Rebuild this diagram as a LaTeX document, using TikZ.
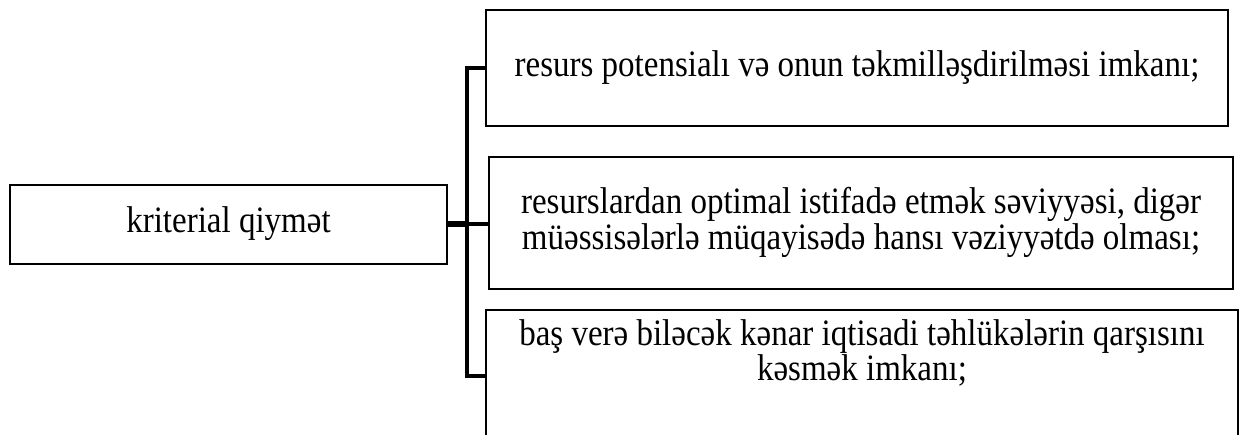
\documentclass[tikz,border=0pt]{standalone}
\usepackage{fontspec}
\setmainfont{Liberation Serif}
\newcommand{\vstretch}[1]{\scalebox{1}[1.13]{\begin{tabular}{@{}c@{}}#1\end{tabular}}}
\begin{document}
\begin{tikzpicture}[x=1pt,y=-1pt,
  boxstyle/.style={draw=black, line width=2.6pt, rectangle, inner sep=0pt, align=center,
    font=\fontsize{33}{28}\selectfont},
  txtstyle/.style={inner sep=0pt, align=center, font=\fontsize{33}{28}\selectfont},
  conn/.style={line width=4.2pt, line cap=rect},
  connthick/.style={line width=6.5pt}]
\clip (0,0) rectangle (1240,434);
\useasboundingbox (0,0) rectangle (1240,434);
\node[boxstyle, minimum width=437pt, minimum height=79pt] (left) at (228.5,224.5) {\vstretch{kriterial qiymət}};
\node[boxstyle, minimum width=742pt, minimum height=116pt] (b1) at (857,68) {\vstretch{resurs potensialı və onun təkmilləşdirilməsi imkanı;}};
\node[boxstyle, minimum width=744pt, minimum height=132pt] (b2) at (861,223) {\vstretch{resurslardan optimal istifadə etmək səviyyəsi, digər\\müəssisələrlə müqayisədə hansı vəziyyətdə olması;}};
\node[boxstyle, minimum width=752pt, minimum height=150pt] (b3) at (862,385) {};
\node[txtstyle] (b3t) at (862,355) {\vstretch{baş verə biləcək kənar iqtisadi təhlükələrin qarşısını\\kəsmək imkanı;}};
\coordinate (j1) at (467,68);
\coordinate (jm) at (467,224);
\coordinate (j3) at (467,376);
\draw[conn] (j1) -- (j3);
\draw[line width=4pt] (j1) -- (b1.west);
\draw[line width=4pt] (j3) -- (j3 -| b3.west);
\draw[connthick] (left.east |- jm) -- (jm);
\draw[line width=4pt] (jm) -- (jm -| b2.west);
\end{tikzpicture}
\end{document}
